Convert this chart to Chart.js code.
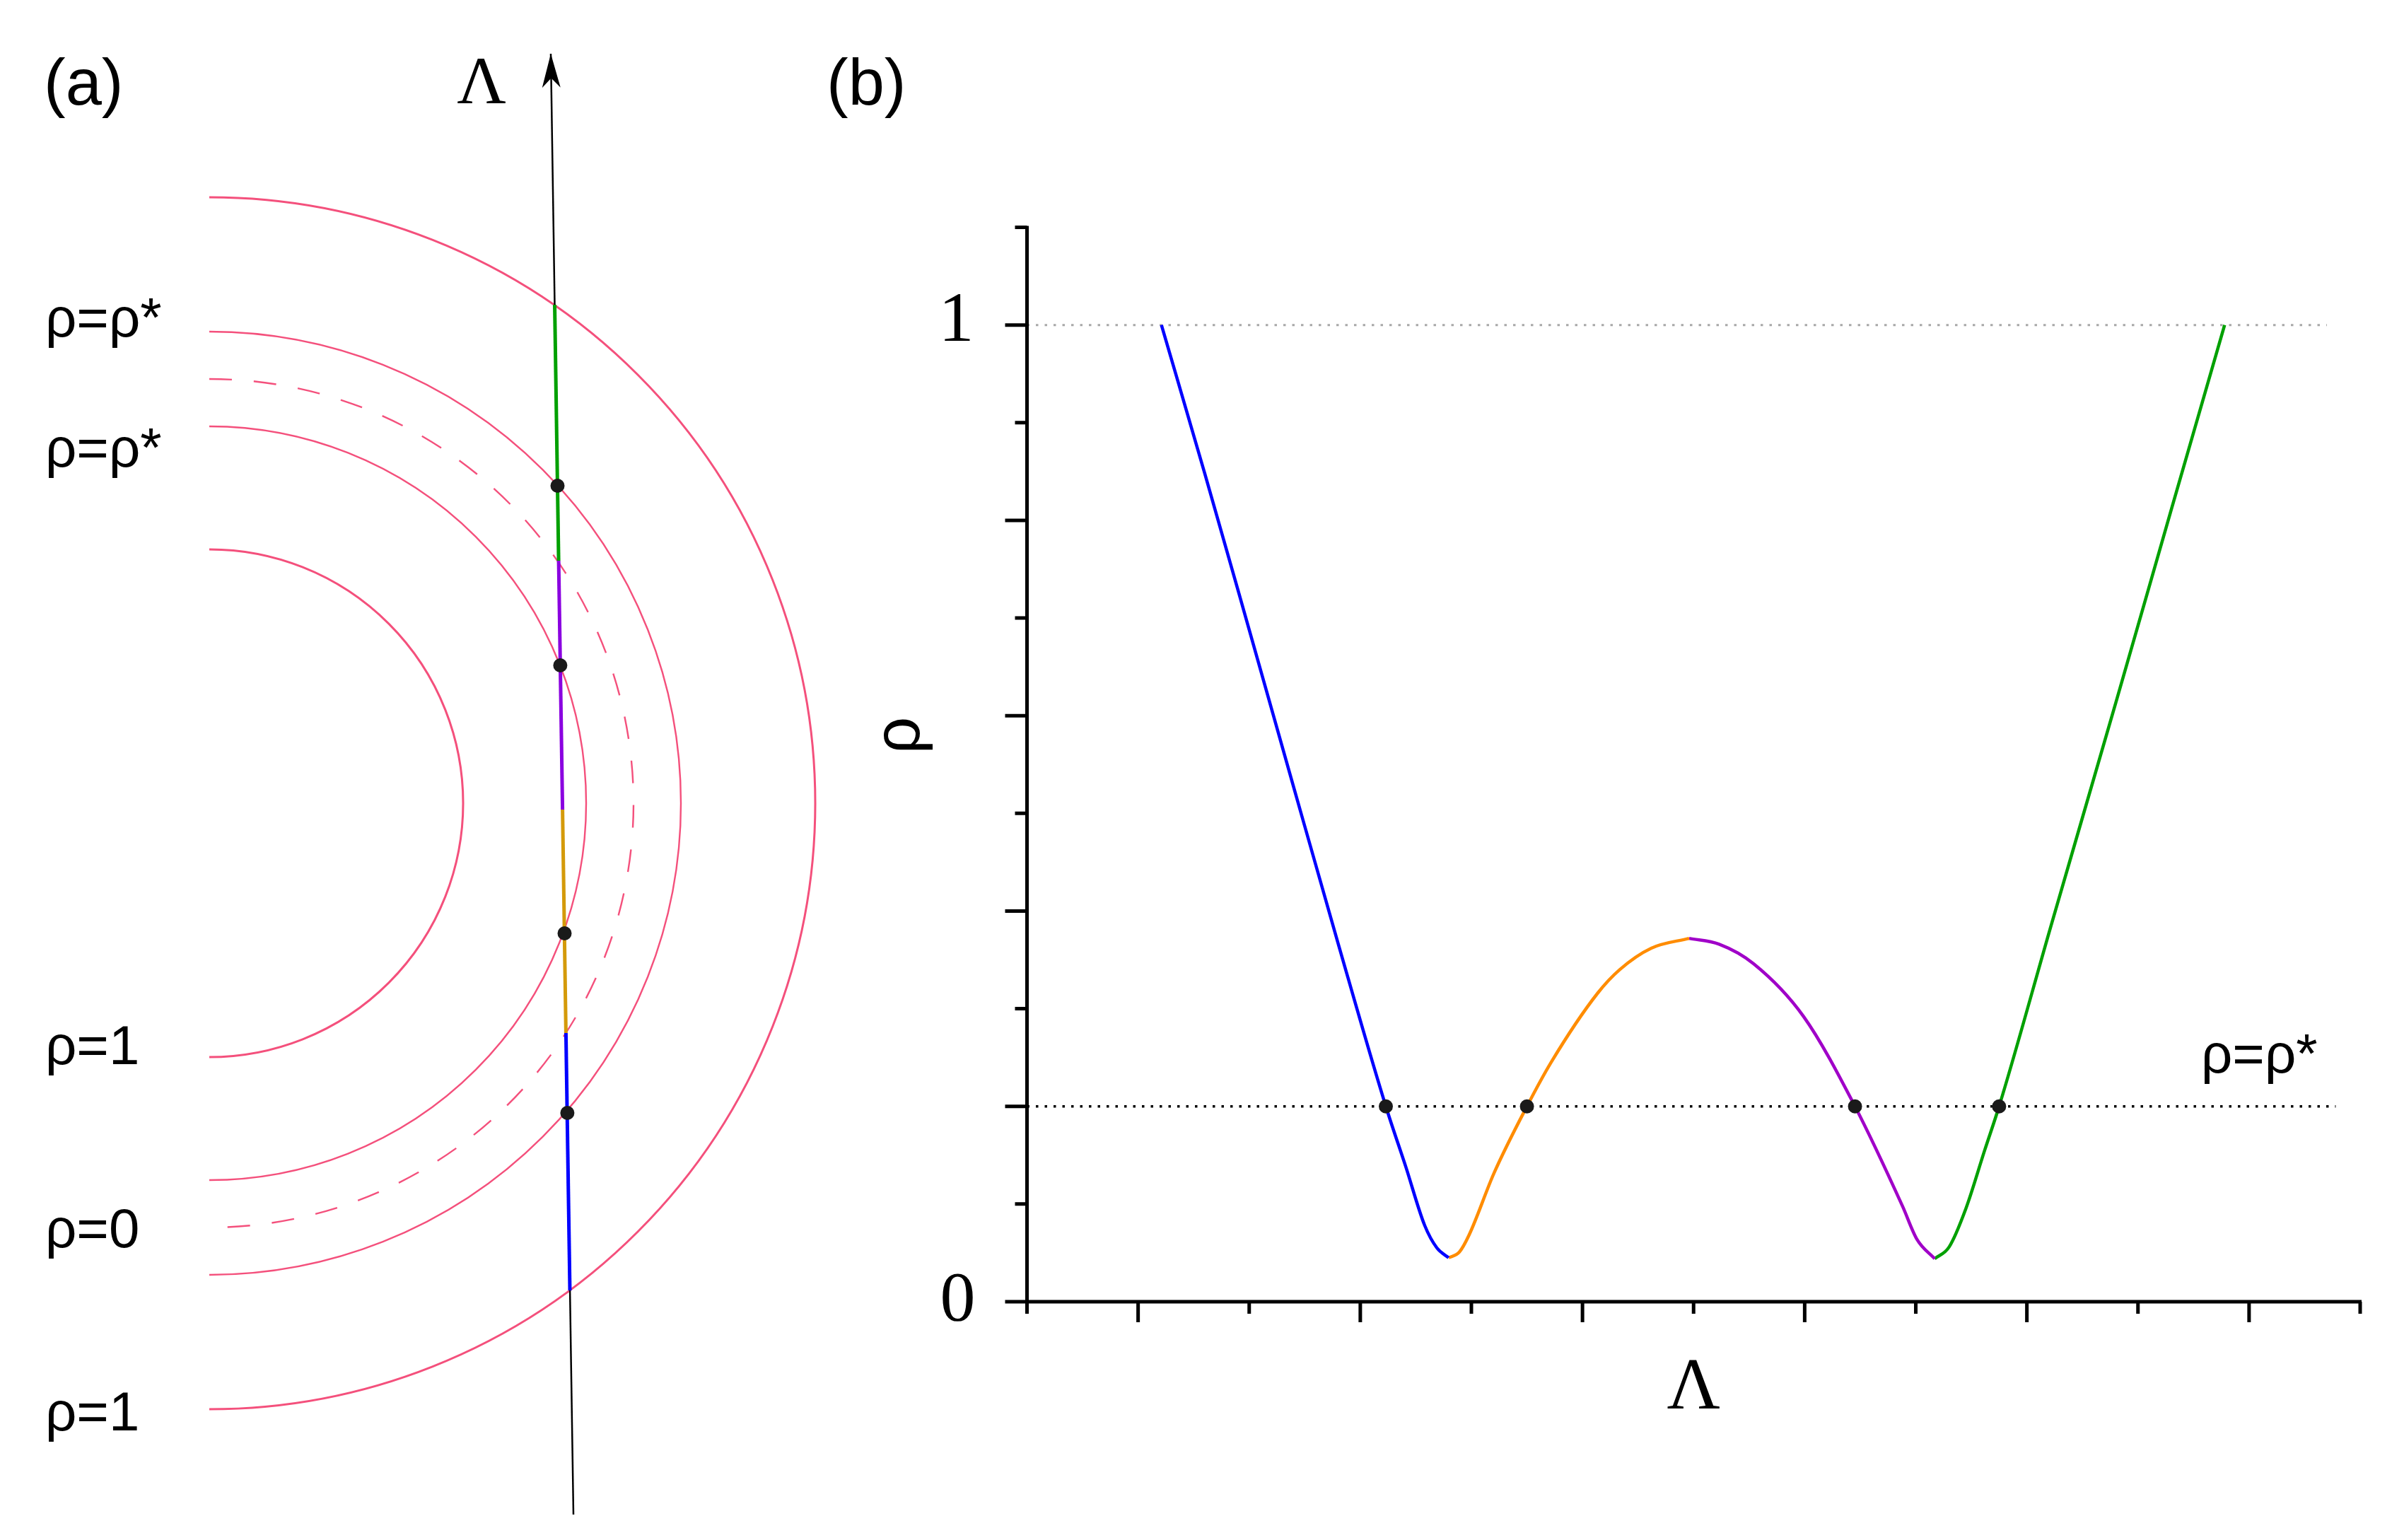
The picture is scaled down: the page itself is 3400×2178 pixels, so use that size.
<!DOCTYPE html>
<html lang="en">
<head>
  <meta charset="UTF-8" />
  <title>rho vs Lambda</title>
  <script src="https://cdn.jsdelivr.net/npm/chart.js"></script>
  <style>
    body { margin: 0; background: #fff; }
    .wrap { position: relative; width: 3400px; height: 2178px; overflow: hidden; }
    canvas { position: absolute; top: 0; }
    #panelA { left: 0; }
    #panelB { left: 1160px; }
  </style>
</head>
<body>
  <div class="wrap">
    <canvas id="panelA" width="1160" height="2178"></canvas>
    <canvas id="panelB" width="2240" height="2178"></canvas>
  </div>
  <script>
    // ---- panel (a): level circles and the path Lambda ----
    const circleRadii = [3.59, 5.33, 6.00, 6.67, 8.57];
    const circleDashed = [false, false, true, false, false];
    const lambdaPathX = [5.15, 4.83];
    const lambdaPathY = [-10.06, 10.60];
    const segBlueA = [[5.10, -6.89], [5.044, -3.25]];
    const segOrangeA = [[5.044, -3.25], [4.996, -0.09]];
    const segPurpleA = [[4.996, -0.09], [4.941, 3.43]];
    const segGreenA = [[4.941, 3.43], [4.885, 7.05]];
    const crossX = [5.064, 5.025, 4.964, 4.925];
    const crossY = [-4.38, -1.84, 1.95, 4.49];

    // ---- panel (b): rho along Lambda ----
    const blueLam = [1.21, 1.6, 2.0, 2.4, 2.8, 3.23, 3.41, 3.58, 3.69, 3.795];
    const blueRho = [1.0, 0.848, 0.688, 0.527, 0.367, 0.2, 0.138, 0.078, 0.055, 0.045];
    const orangeLam = [3.795, 3.893, 3.978, 4.205, 4.50, 4.717, 5.137, 5.335, 5.62, 5.96];
    const orangeRho = [0.045, 0.051, 0.068, 0.132, 0.2, 0.245, 0.316, 0.340, 0.362, 0.372];
    const purpleLam = [5.96, 6.23, 6.54, 6.99, 7.453, 7.88, 8.01, 8.17];
    const purpleRho = [0.372, 0.366, 0.346, 0.292, 0.2, 0.098, 0.064, 0.044];
    const greenLam = [8.17, 8.30, 8.45, 8.62, 8.75, 9.22, 9.8, 10.3, 10.78];
    const greenRho = [0.044, 0.056, 0.095, 0.155, 0.2, 0.386, 0.613, 0.811, 1.0];
    const dotLam = [3.23, 4.50, 7.453, 8.75];
    const rhoStar = 0.2;
    const rhoOneEnd = 11.70;
    const rhoStarEnd = 11.78;
    const yTicks = [0, 0.1, 0.2, 0.3, 0.4, 0.5, 0.6, 0.7, 0.8, 0.9, 1.0, 1.1];
    const xTicks = [0, 1, 2, 3, 4, 5, 6, 7, 8, 9, 10, 11, 12];

    const pts = (xs, ys) => xs.map((x, i) => ({ x: x, y: ys[i] }));
    const pairs = arr => arr.map(p => ({ x: p[0], y: p[1] }));
    const SANS = '"Liberation Sans", Arial, sans-serif';
    const SERIF = '"Liberation Serif", "Times New Roman", serif';

    const arcsPlugin = {
      id: 'arcs',
      beforeDatasetsDraw(chart) {
        const { ctx, scales: { x, y } } = chart;
        const cx = x.getPixelForValue(0), cy = y.getPixelForValue(0);
        ctx.save();
        ctx.strokeStyle = '#f4507c';
        circleRadii.forEach((r, i) => {
          const rp = x.getPixelForValue(r) - cx;
          ctx.lineWidth = i === 0 || i === 4 ? 3 : 2.4;
          ctx.setLineDash(circleDashed[i] ? [32, 31] : []);
          ctx.beginPath();
          ctx.arc(cx, cy, rp, -Math.PI / 2, Math.PI / 2);
          ctx.stroke();
        });
        ctx.restore();
      },
      afterDraw(chart) {
        const { ctx, scales: { x, y } } = chart;
        // arrow head at the end of the Lambda path
        const x0 = x.getPixelForValue(lambdaPathX[0]), y0 = y.getPixelForValue(lambdaPathY[0]);
        const x1 = x.getPixelForValue(lambdaPathX[1]), y1 = y.getPixelForValue(lambdaPathY[1]);
        const len = Math.hypot(x1 - x0, y1 - y0);
        const ux = (x1 - x0) / len, uy = (y1 - y0) / len;
        const nx = -uy, ny = ux;
        const L = 48, W = 13;
        ctx.save();
        ctx.fillStyle = '#000';
        ctx.beginPath();
        ctx.moveTo(x1, y1);
        ctx.lineTo(x1 - L * ux + W * nx, y1 - L * uy + W * ny);
        ctx.lineTo(x1 - 0.72 * L * ux, y1 - 0.72 * L * uy);
        ctx.lineTo(x1 - L * ux - W * nx, y1 - L * uy - W * ny);
        ctx.closePath();
        ctx.fill();

        ctx.fillStyle = '#000';
        ctx.textBaseline = 'alphabetic';
        ctx.font = '92px ' + SANS;
        ctx.textAlign = 'left';
        ctx.fillText('(a)', 62, 148);
        ctx.font = '96px ' + SERIF;
        ctx.textAlign = 'center';
        ctx.fillText('\u039B', 681, 146);
        ctx.font = '78px ' + SANS;
        ctx.textAlign = 'left';
        ctx.fillText('\u03C1=\u03C1*', 64, 476);
        ctx.fillText('\u03C1=\u03C1*', 64, 660);
        ctx.fillText('\u03C1=1', 64, 1505);
        ctx.fillText('\u03C1=0', 64, 1764);
        ctx.fillText('\u03C1=1', 64, 2023);
        ctx.restore();
      }
    };

    new Chart(document.getElementById('panelA'), {
      type: 'scatter',
      data: {
        datasets: [
          { data: pts(crossX, crossY), pointRadius: 10, pointBackgroundColor: '#1a1a1a', pointBorderWidth: 0, order: 0 },
          { data: pairs(segBlueA), showLine: true, borderColor: '#0000ff', borderWidth: 5, pointRadius: 0, order: 1 },
          { data: pairs(segOrangeA), showLine: true, borderColor: '#d49a0a', borderWidth: 5, pointRadius: 0, order: 1 },
          { data: pairs(segPurpleA), showLine: true, borderColor: '#8a00e0', borderWidth: 5, pointRadius: 0, order: 1 },
          { data: pairs(segGreenA), showLine: true, borderColor: '#00a000', borderWidth: 5, pointRadius: 0, order: 1 },
          { data: pts(lambdaPathX, lambdaPathY), showLine: true, borderColor: '#000', borderWidth: 2.5, pointRadius: 0, order: 2 }
        ]
      },
      options: {
        responsive: false,
        animation: false,
        devicePixelRatio: 1,
        layout: { padding: 0, autoPadding: false },
        plugins: { legend: { display: false }, tooltip: { enabled: false } },
        scales: {
          x: { type: 'linear', min: -2.96, max: 8.64, display: false },
          y: { type: 'linear', min: -10.42, max: 11.36, display: false }
        }
      },
      plugins: [arcsPlugin]
    });

    const axesPlugin = {
      id: 'axesB',
      afterDraw(chart) {
        const { ctx, scales: { x, y } } = chart;
        const ox = x.getPixelForValue(0), oy = y.getPixelForValue(0);
        ctx.save();
        ctx.strokeStyle = '#000';
        ctx.lineWidth = 5;
        ctx.lineCap = 'butt';
        ctx.beginPath();
        ctx.moveTo(ox, y.getPixelForValue(yTicks[yTicks.length - 1]) - 2);
        ctx.lineTo(ox, oy);
        ctx.moveTo(ox, oy);
        ctx.lineTo(x.getPixelForValue(xTicks[xTicks.length - 1]) + 2, oy);
        ctx.stroke();
        ctx.beginPath();
        yTicks.forEach((v, i) => {
          const py = y.getPixelForValue(v);
          const len = i % 2 === 0 ? 31 : 17;
          ctx.moveTo(ox, py);
          ctx.lineTo(ox - len, py);
        });
        xTicks.forEach((v, i) => {
          const px = x.getPixelForValue(v);
          const len = i % 2 === 1 ? 29 : 17;
          ctx.moveTo(px, oy);
          ctx.lineTo(px, oy + len);
        });
        ctx.stroke();

        ctx.fillStyle = '#000';
        ctx.font = '100px ' + SERIF;
        ctx.textAlign = 'right';
        ctx.textBaseline = 'alphabetic';
        ctx.fillText('1', ox - 75, y.getPixelForValue(1) + 22);
        ctx.fillText('0', ox - 73, oy + 26);
        ctx.font = '104px ' + SERIF;
        ctx.textAlign = 'center';
        ctx.fillText('\u039B', x.getPixelForValue(6), 1992);
        ctx.save();
        ctx.translate(1283 - 1160, 1040);
        ctx.rotate(-Math.PI / 2);
        ctx.font = '92px ' + SANS;
        ctx.textAlign = 'center';
        ctx.textBaseline = 'middle';
        ctx.fillText('\u03C1', 0, -8);
        ctx.restore();
        ctx.font = '92px ' + SANS;
        ctx.textAlign = 'left';
        ctx.fillText('(b)', 1169 - 1160, 148);
        ctx.font = '78px ' + SANS;
        ctx.fillText('\u03C1=\u03C1*', 3113 - 1160, 1517);
        ctx.restore();
      }
    };

    const curve = (xs, ys, color) => ({
      type: 'line', data: pts(xs, ys), borderColor: color, borderWidth: 4.5,
      pointRadius: 0, cubicInterpolationMode: 'monotone', clip: false, order: 1
    });

    new Chart(document.getElementById('panelB'), {
      type: 'scatter',
      data: {
        datasets: [
          { data: dotLam.map(l => ({ x: l, y: rhoStar })), pointRadius: 10, pointBackgroundColor: '#1a1a1a', pointBorderWidth: 0, order: 0 },
          curve(blueLam, blueRho, '#0000ff'),
          curve(orangeLam, orangeRho, '#ff8c00'),
          curve(purpleLam, purpleRho, '#a000c8'),
          curve(greenLam, greenRho, '#00a000'),
          { type: 'line', data: [{ x: 0, y: rhoStar }, { x: rhoStarEnd, y: rhoStar }], borderColor: '#000', borderWidth: 3.5, borderDash: [3.5, 9], pointRadius: 0, order: 2 },
          { type: 'line', data: [{ x: 0, y: 1 }, { x: rhoOneEnd, y: 1 }], borderColor: '#a8a8a8', borderWidth: 3, borderDash: [3.5, 9], pointRadius: 0, order: 2 }
        ]
      },
      options: {
        responsive: false,
        animation: false,
        devicePixelRatio: 1,
        layout: { padding: { left: 292.5, right: 62, top: 321.5, bottom: 337 }, autoPadding: false },
        plugins: { legend: { display: false }, tooltip: { enabled: false } },
        scales: {
          x: { type: 'linear', min: xTicks[0], max: xTicks[xTicks.length - 1], display: false },
          y: { type: 'linear', min: yTicks[0], max: yTicks[yTicks.length - 1], display: false }
        }
      },
      plugins: [axesPlugin]
    });
  </script>
</body>
</html>
